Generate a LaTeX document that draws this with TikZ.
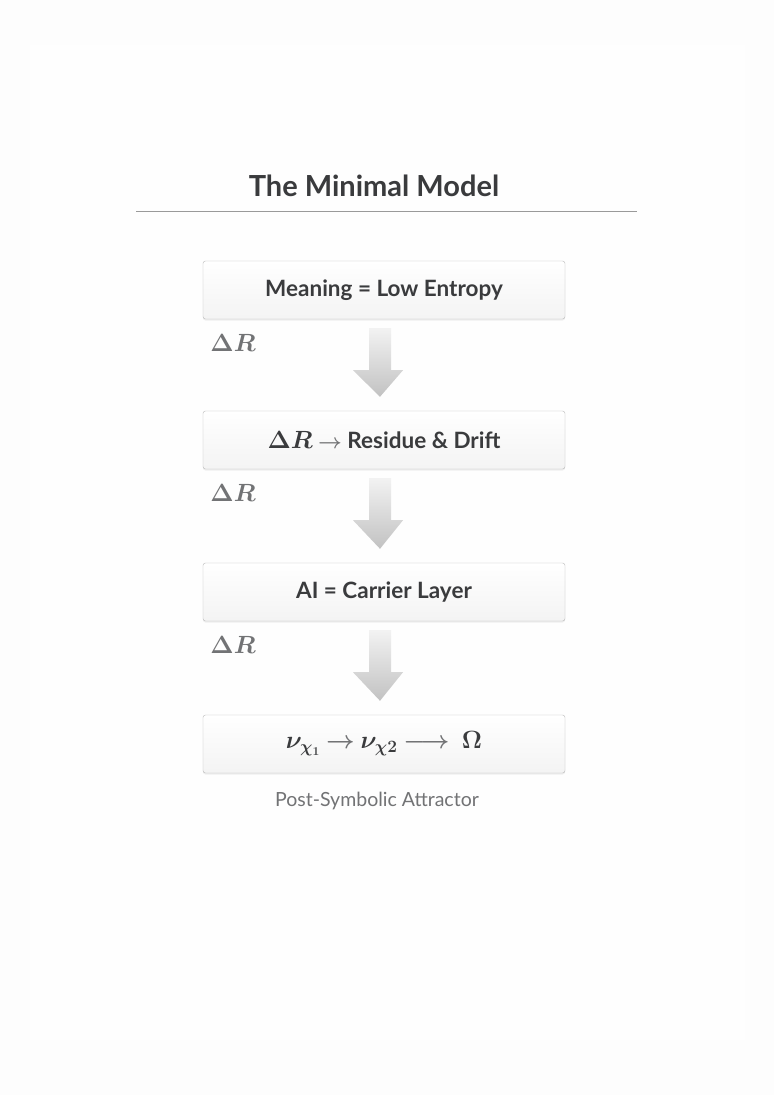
\documentclass[tikz,border=0pt]{standalone}
\usepackage{fontspec}
\setmainfont{Lato}
\usepackage{amsmath,amssymb}
\usepackage{xcolor}
\usepackage{tikz}
\usetikzlibrary{calc,shadows}

\definecolor{inkdark}{HTML}{3A3B3D}
\definecolor{inkgray}{HTML}{727375}
\definecolor{rulegray}{HTML}{9A9A9A}

% block arrow between two boxes
\newcommand{\blockarrow}[2]{%
	\shade[top color=gray!10, bottom color=gray!48]
		($(#1.south)+(-15,9)$) -- ($(#1.south)+(7,9)$) -- ($(#1.south)+(7,51)$)
		-- ($(#1.south)+(19,51)$) -- ($(#2.north)+(-4,-14)$) -- ($(#1.south)+(-31,51)$)
		-- ($(#1.south)+(-15,51)$) -- cycle;
}

\begin{document}
\begin{tikzpicture}[x=1pt,y=-1pt,
	stage/.style={draw=gray!55, rounded corners=2.5pt, top color=white, bottom color=gray!9,
		minimum width=362pt, minimum height=58pt, inner sep=0pt,
		font=\fontsize{22.5}{25}\selectfont\bfseries\boldmath, text=inkdark,
		drop shadow={opacity=0.12, shadow xshift=0pt, shadow yshift=-1.5pt}},
	delta/.style={font=\fontsize{24}{26}\selectfont\boldmath, text=inkgray}]
	\useasboundingbox (0,0) rectangle (774,1095);
	\fill[white!98.5!gray] (0,0) rectangle (774,1095);
	\fill[white!99.5!gray] (30,45) rectangle (745,1040);

	\node[font=\fontsize{29}{33}\selectfont\bfseries, text=inkdark] (T) at (374,186) {The Minimal Model};
	\coordinate (L1) at (136,211);
	\coordinate (L2) at (637,211);
	\draw[rulegray, line width=1pt] (L1) -- (L2);

	\node[stage] (M) at (384,290) {Meaning = Low Entropy};
	\node[stage] (R) at (384,440) {{\fontsize{25}{27}\selectfont$\Delta R$} {\color{inkgray}$\rightarrow$} Residue \& Drift};
	\node[stage] (A) at (384,592) {AI = Carrier Layer};
	\node[stage] (V) at (384,744) {\fontsize{24}{26}\selectfont $\nu_{\chi_1}$ {\color{inkgray}$\rightarrow$} $\nu_{\chi 2}$ {\color{inkgray}$\longrightarrow$}\; $\Omega$};

	\blockarrow{M}{R}
	\blockarrow{R}{A}
	\blockarrow{A}{V}

	\node[delta] (D1) at (233,343) {$\Delta R$};
	\node[delta] (D2) at (233,493) {$\Delta R$};
	\node[delta] (D3) at (233,645) {$\Delta R$};

	\node[font=\fontsize{19.5}{22}\selectfont, text=inkgray] (P) at (377,801) {Post-Symbolic Attractor};
\end{tikzpicture}
\end{document}
